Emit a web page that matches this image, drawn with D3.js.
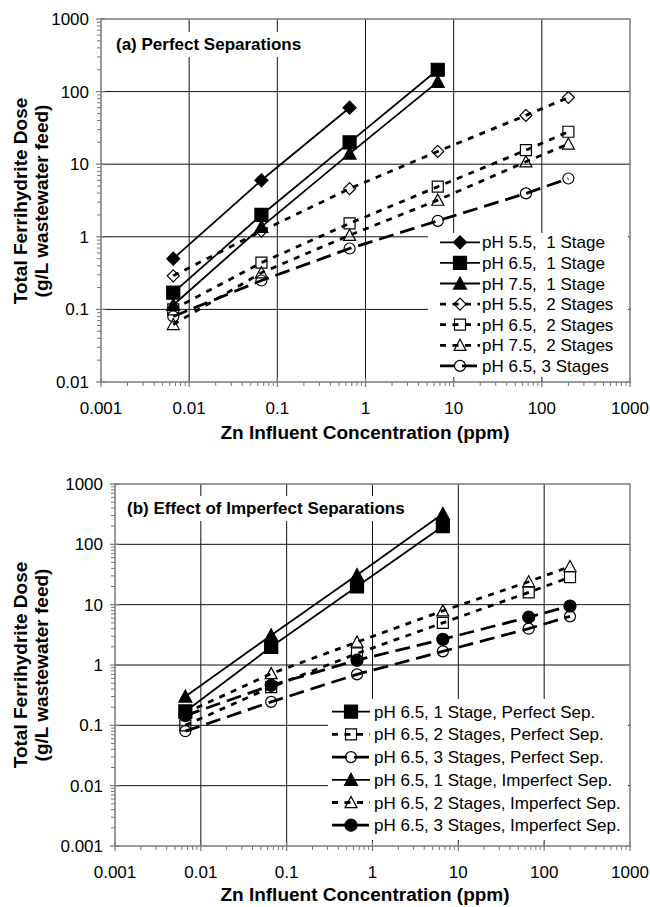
<!DOCTYPE html>
<html>
<head>
<meta charset="utf-8">
<script src="https://cdn.jsdelivr.net/npm/d3@7"></script>
<style>
  body { margin: 0; background: #fff; }
  svg { display: block; font-family: Arial, "Liberation Sans", sans-serif; }
</style>
</head>
<body>
<svg id="chart" width="650" height="907"></svg>
<script>
// x values (ppm)
const xOneStage = [0.0066, 0.066, 0.66, 6.6];
const xMultiStage = [0.0066, 0.066, 0.66, 6.6, 66, 200];

// panel (a) values, g/L
const aPH55One = [0.5, 6, 60];
const aPH65One = [0.17, 2, 20, 200];
const aPH75One = [0.115, 1.37, 14, 136];
const aPH55Two = [0.29, 1.2, 4.6, 15, 47, 83];
const aPH65Two = [0.1, 0.44, 1.53, 4.9, 15.6, 28];
const aPH75Two = [0.062, 0.32, 1.05, 3.2, 10.8, 19];
const aPH65Three = [0.08, 0.25, 0.69, 1.66, 3.96, 6.35];

// panel (b) values, g/L
const bOnePerfect = [0.17, 2, 20, 200];
const bTwoPerfect = [0.1, 0.43, 1.55, 5.0, 16, 28.5];
const bThreePerfect = [0.08, 0.245, 0.7, 1.68, 4.0, 6.4];
const bOneImperfect = [0.3, 3.1, 31, 320];
const bTwoImperfect = [0.16, 0.72, 2.4, 7.9, 24, 43];
const bThreeImperfect = [0.145, 0.46, 1.2, 2.67, 6.2, 9.5];

const aLabels = ["pH 5.5,  1 Stage", "pH 6.5,  1 Stage", "pH 7.5,  1 Stage",
  "pH 5.5,  2 Stages", "pH 6.5,  2 Stages", "pH 7.5,  2 Stages", "pH 6.5, 3 Stages"];
const bLabels = ["pH 6.5, 1 Stage, Perfect Sep.", "pH 6.5, 2 Stages, Perfect Sep.",
  "pH 6.5, 3 Stages, Perfect Sep.", "pH 6.5, 1 Stage, Imperfect Sep.",
  "pH 6.5, 2 Stages, Imperfect Sep.", "pH 6.5, 3 Stages, Imperfect Sep."];

const xTicks = [0.001, 0.01, 0.1, 1, 10, 100, 1000];
const xTickLabels = ["0.001", "0.01", "0.1", "1", "10", "100", "1000"];
const yTicksA = [0.01, 0.1, 1, 10, 100, 1000];
const yTickLabelsA = ["0.01", "0.1", "1", "10", "100", "1000"];
const yTicksB = [0.001, 0.01, 0.1, 1, 10, 100, 1000];
const yTickLabelsB = ["0.001", "0.01", "0.1", "1", "10", "100", "1000"];

// line styles by number of stages
const dashOf = { 1: null, 2: "6,6.5", 3: "15,7" };
const widthOf = { 1: 1.8, 2: 2.8, 3: 2.8 };

const svg = d3.select("#chart");

function drawMarker(g, shape, filled, x, y) {
  let p;
  if (shape === "diamond") {
    const r = filled ? 6.5 : 6;
    p = `M${x},${y - r}L${x + r},${y}L${x},${y + r}L${x - r},${y}Z`;
  } else if (shape === "square") {
    const r = filled ? 6.5 : 5.5;
    p = `M${x - r},${y - r}h${2 * r}v${2 * r}h${-2 * r}Z`;
  } else if (shape === "triangle") {
    const r = filled ? 6.5 : 6;
    p = `M${x},${y - r}L${x + r},${y + r * 0.85}L${x - r},${y + r * 0.85}Z`;
  }
  if (shape === "circle") {
    g.append("circle").attr("cx", x).attr("cy", y).attr("r", filled ? 6 : 5.5)
      .attr("fill", filled ? "#000" : "none").attr("stroke", "#000").attr("stroke-width", 1.2);
  } else {
    g.append("path").attr("d", p)
      .attr("fill", filled ? "#000" : "none").attr("stroke", "#000").attr("stroke-width", 1.2);
  }
}

function drawPanel(cfg) {
  const x = d3.scaleLog().domain([0.001, 1000]).range([cfg.left, cfg.right]);
  const y = d3.scaleLog().domain(cfg.yDomain).range([cfg.bottom, cfg.top]);
  const g = svg.append("g");

  // gridlines
  g.append("g").selectAll("line.v").data(xTicks.slice(1, -1)).join("line")
    .attr("x1", d => x(d)).attr("x2", d => x(d))
    .attr("y1", cfg.top).attr("y2", cfg.bottom)
    .attr("stroke", "#111").attr("stroke-width", 1);
  g.append("g").selectAll("line.h").data(cfg.yTicks.slice(1, -1)).join("line")
    .attr("y1", d => y(d)).attr("y2", d => y(d))
    .attr("x1", cfg.left).attr("x2", cfg.right)
    .attr("stroke", "#111").attr("stroke-width", 1);

  // minor ticks
  const minorX = [];
  xTicks.slice(0, -1).forEach(t => { for (let k = 2; k < 10; k++) minorX.push(t * k); });
  const minorY = [];
  cfg.yTicks.slice(0, -1).forEach(t => { for (let k = 2; k < 10; k++) minorY.push(t * k); });
  g.append("g").selectAll("line").data(minorX).join("line")
    .attr("x1", d => x(d)).attr("x2", d => x(d))
    .attr("y1", cfg.bottom).attr("y2", cfg.bottom + 4)
    .attr("stroke", "#777").attr("stroke-width", 1);
  g.append("g").selectAll("line").data(minorY).join("line")
    .attr("y1", d => y(d)).attr("y2", d => y(d))
    .attr("x1", cfg.left - 4).attr("x2", cfg.left)
    .attr("stroke", "#777").attr("stroke-width", 1);
  g.append("g").selectAll("line").data(xTicks).join("line")
    .attr("x1", d => x(d)).attr("x2", d => x(d))
    .attr("y1", cfg.bottom - 4).attr("y2", cfg.bottom + 5)
    .attr("stroke", "#777").attr("stroke-width", 1.2);
  g.append("g").selectAll("line").data(cfg.yTicks).join("line")
    .attr("y1", d => y(d)).attr("y2", d => y(d))
    .attr("x1", cfg.left - 5).attr("x2", cfg.left + 4)
    .attr("stroke", "#777").attr("stroke-width", 1.2);

  // plot border
  g.append("rect").attr("x", cfg.left).attr("y", cfg.top)
    .attr("width", cfg.right - cfg.left).attr("height", cfg.bottom - cfg.top)
    .attr("fill", "none").attr("stroke", "#7a7a7a").attr("stroke-width", 1.5);

  // tick labels
  g.append("g").selectAll("text").data(xTicks).join("text")
    .attr("x", d => x(d)).attr("y", cfg.bottom + 32)
    .attr("text-anchor", "middle").attr("font-size", 17)
    .text((d, i) => xTickLabels[i]);
  g.append("g").selectAll("text").data(cfg.yTicks).join("text")
    .attr("x", cfg.left - 12).attr("y", d => y(d) + 6)
    .attr("text-anchor", "end").attr("font-size", 17)
    .text((d, i) => cfg.yTickLabels[i]);

  // axis titles
  g.append("text").attr("x", 365).attr("y", cfg.xTitleY)
    .attr("text-anchor", "middle").attr("font-size", 19).attr("font-weight", "bold")
    .text("Zn Influent Concentration (ppm)");
  [["Total Ferrihydrite Dose", 27], ["(g/L wastewater feed)", 48]].forEach(([t, bx]) => {
    g.append("text")
      .attr("transform", `translate(${bx},${cfg.yTitleMid}) rotate(-90)`)
      .attr("text-anchor", "middle").attr("font-size", 19).attr("font-weight", "bold")
      .text(t);
  });

  // panel title with white box behind it
  const tg = g.append("g");
  const tt = tg.append("text").attr("x", cfg.titleX).attr("y", cfg.titleY)
    .attr("font-size", 17).attr("font-weight", "bold").text(cfg.title);
  const bb = tt.node().getBBox();
  tg.insert("rect", "text").attr("x", bb.x - 4).attr("y", bb.y - 3)
    .attr("width", bb.width + 8).attr("height", bb.height + 6).attr("fill", "#fff");

  // series
  const line = d3.line().x(d => x(d[0])).y(d => y(d[1]));
  cfg.series.forEach(s => {
    const pts = s.values.map((v, i) => [s.xs[i], v]);
    g.append("path").datum(pts).attr("d", line)
      .attr("fill", "none").attr("stroke", "#000")
      .attr("stroke-width", widthOf[s.stages])
      .attr("stroke-dasharray", dashOf[s.stages]);
    pts.forEach(p => drawMarker(g, s.shape, s.filled, x(p[0]), y(p[1])));
  });

  // legend
  const L = cfg.legend;
  const lg = g.append("g");
  lg.append("rect").attr("x", L.x0).attr("y", L.y0)
    .attr("width", L.x1 - L.x0).attr("height", L.y1 - L.y0).attr("fill", "#fff");
  cfg.series.forEach((s, i) => {
    const ry = L.rowY0 + i * L.rowDy;
    lg.append("line").attr("x1", L.lineX0).attr("x2", L.lineX1)
      .attr("y1", ry).attr("y2", ry).attr("stroke", "#000")
      .attr("stroke-width", widthOf[s.stages])
      .attr("stroke-dasharray", dashOf[s.stages]);
    drawMarker(lg, s.shape, s.filled, (L.lineX0 + L.lineX1) / 2, ry);
    lg.append("text").attr("x", L.textX).attr("y", ry + 6)
      .attr("font-size", 17).attr("xml:space", "preserve").style("white-space", "pre")
      .text(s.label);
  });
}

drawPanel({
  left: 101, right: 630, top: 19, bottom: 382,
  yDomain: [0.01, 1000], yTicks: yTicksA, yTickLabels: yTickLabelsA,
  xTitleY: 439, yTitleMid: 201,
  title: "(a) Perfect Separations", titleX: 116, titleY: 50,
  legend: { x0: 428, y0: 233, x1: 628, y1: 377, lineX0: 440, lineX1: 480, textX: 482, rowY0: 242.3, rowDy: 20.6 },
  series: [
    { label: aLabels[0], xs: xOneStage, values: aPH55One, stages: 1, shape: "diamond", filled: true },
    { label: aLabels[1], xs: xOneStage, values: aPH65One, stages: 1, shape: "square", filled: true },
    { label: aLabels[2], xs: xOneStage, values: aPH75One, stages: 1, shape: "triangle", filled: true },
    { label: aLabels[3], xs: xMultiStage, values: aPH55Two, stages: 2, shape: "diamond", filled: false },
    { label: aLabels[4], xs: xMultiStage, values: aPH65Two, stages: 2, shape: "square", filled: false },
    { label: aLabels[5], xs: xMultiStage, values: aPH75Two, stages: 2, shape: "triangle", filled: false },
    { label: aLabels[6], xs: xMultiStage, values: aPH65Three, stages: 3, shape: "circle", filled: false }
  ]
});

drawPanel({
  left: 115, right: 630, top: 484, bottom: 846,
  yDomain: [0.001, 1000], yTicks: yTicksB, yTickLabels: yTickLabelsB,
  xTitleY: 901, yTitleMid: 665,
  title: "(b) Effect of Imperfect Separations", titleX: 127, titleY: 514,
  legend: { x0: 328, y0: 699, x1: 628, y1: 840, lineX0: 332, lineX1: 370, textX: 374, rowY0: 711.7, rowDy: 22.7 },
  series: [
    { label: bLabels[0], xs: xOneStage, values: bOnePerfect, stages: 1, shape: "square", filled: true },
    { label: bLabels[1], xs: xMultiStage, values: bTwoPerfect, stages: 2, shape: "square", filled: false },
    { label: bLabels[2], xs: xMultiStage, values: bThreePerfect, stages: 3, shape: "circle", filled: false },
    { label: bLabels[3], xs: xOneStage, values: bOneImperfect, stages: 1, shape: "triangle", filled: true },
    { label: bLabels[4], xs: xMultiStage, values: bTwoImperfect, stages: 2, shape: "triangle", filled: false },
    { label: bLabels[5], xs: xMultiStage, values: bThreeImperfect, stages: 3, shape: "circle", filled: true }
  ]
});
</script>
</body>
</html>
